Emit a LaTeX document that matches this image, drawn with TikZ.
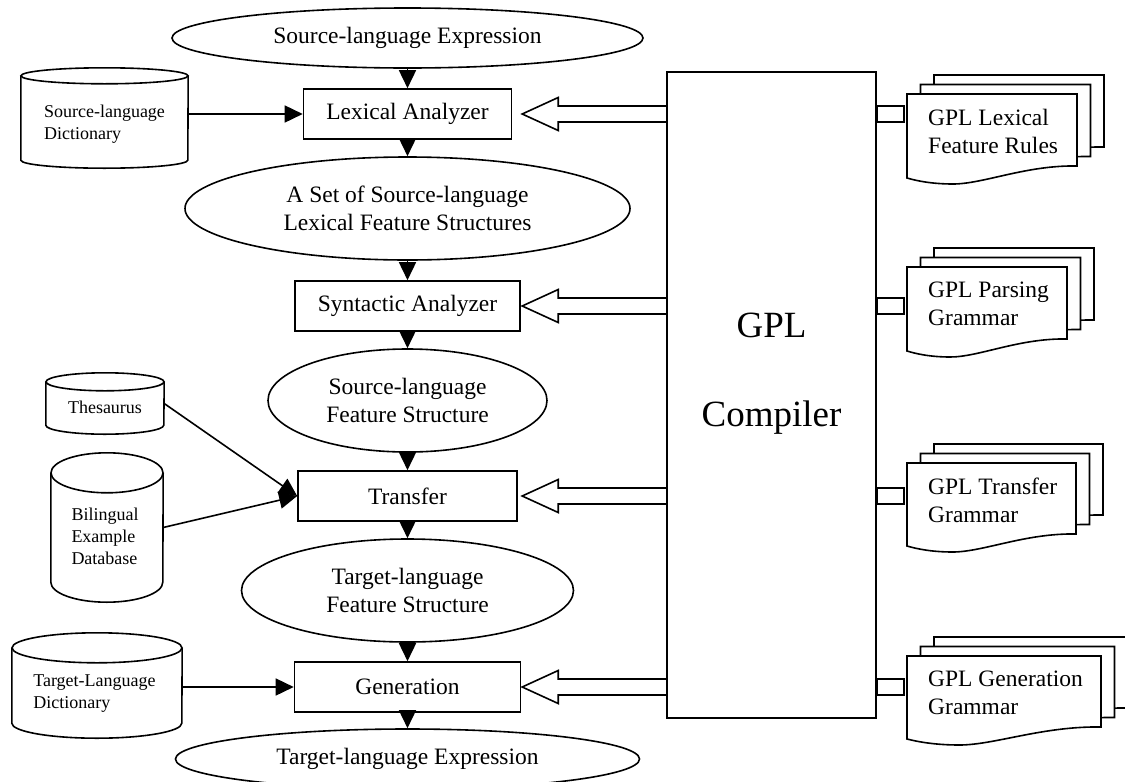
\documentclass[tikz,border=0pt]{standalone}
\usepackage{fontspec}
\setmainfont{Liberation Serif}
\usetikzlibrary{arrows.meta,shapes.geometric}

\newcommand{\fontmain}{\fontsize{23.5pt}{28pt}\selectfont}
\newcommand{\fontnote}{\fontsize{18pt}{22pt}\selectfont}
\newcommand{\fonttitle}{\fontsize{37pt}{44pt}\selectfont}

\tikzset{
  outline/.style={line width=1.6pt, line join=miter},
  stage/.style={draw, outline, rectangle, minimum height=50pt, inner sep=0pt, font=\fontmain},
  datum/.style={draw, outline, ellipse, inner sep=0pt, align=center, font=\fontmain},
  flow/.style={outline, -{Triangle[length=18pt,width=17pt]}},
  drumbody/.style={rectangle, inner sep=0pt},
  drumtext/.style={inner sep=0pt, align=left, font=\fontnote},
  sheet/.style={outline, fill=white},
  sheettext/.style={anchor=north west, inner sep=0pt, align=left, font=\fontmain},
}

% database drum: name, centre x, centre y, radius, half body height, end radius
\newcommand{\drumshape}[6]{%
  \node[drumbody, minimum width={2*#4pt}, minimum height={2*#5pt}] (#1) at (#2,#3) {};
  \draw[outline] (#1.north west) -- (#1.south west)
     arc[start angle=180, end angle=360, x radius=#4pt, y radius=#6pt] -- (#1.north east);
  \draw[outline] (#1.north) ellipse[x radius=#4pt, y radius=#6pt];
}

% one document sheet with a wavy lower edge: left, top, width, height
\newcommand{\docsheet}[4]{%
  \filldraw[sheet, shift={(#1,#2)}] (0,0) -- (#3,0) -- (#3,#4-12)
    .. controls ({0.7*#3},{#4-13}) and ({0.45*#3},{#4+6}) .. ({0.27*#3},{#4+6})
    .. controls ({0.15*#3},{#4+6}) and ({0.06*#3},{#4+3}) .. (0,#4) -- cycle;
}

% a stack of three sheets, front sheet at the given corner
\newcommand{\sheetstack}[4]{%
  \docsheet{#1+27}{#2-19}{#3}{#4}
  \docsheet{#1+13.5}{#2-9.5}{#3}{#4}
  \docsheet{#1}{#2}{#3}{#4}
}

\begin{document}
\begin{tikzpicture}[x=1pt, y=-1pt]
\useasboundingbox (0,0) rectangle (1125,782);
\fill[white] (0,0) rectangle (1125,782);

% translation pipeline
\node[datum, minimum width=471pt, minimum height=60pt] (srcexpr) at (407.5,38) {Source-language Expression};
\node[stage, minimum width=208pt] (lex) at (407.5,114) {Lexical Analyzer};
\node[datum, minimum width=445pt, minimum height=103pt] (lexfs) at (407.5,208.5) {A Set of Source-language\\Lexical Feature Structures};
\node[stage, minimum width=225pt] (syn) at (407.5,306) {Syntactic Analyzer};
\node[datum, minimum width=279pt, minimum height=103pt] (srcfs) at (407.5,400.5) {Source-language\\Feature Structure};
\node[stage, minimum width=219pt] (xfer) at (407.5,496) {Transfer};
\node[datum, minimum width=332pt, minimum height=103pt] (tgtfs) at (407.5,590.5) {Target-language\\Feature Structure};
\node[stage, minimum width=226pt] (gen) at (407.5,687) {Generation};
\node[datum, minimum width=464pt, minimum height=60pt] (tgtexpr) at (407.5,759) {Target-language Expression};

\draw[flow] (srcexpr) -- (lex);
\draw[flow] (lex) -- (lexfs);
\draw[flow] (lexfs) -- (syn);
\draw[flow] (syn) -- (srcfs);
\draw[flow] (srcfs) -- (xfer);
\draw[flow] (xfer) -- (tgtfs);
\draw[flow] (tgtfs) -- (gen);
\draw[flow] (gen) -- (tgtexpr);

% compiler
\node[draw, outline, minimum width=209pt, minimum height=646pt, inner sep=0pt] (compiler) at (771.5,395) {};
\node[font=\fonttitle, align=center, inner sep=0pt] (compilername) at (771.5,373.5) {GPL\\[45pt]Compiler};

% hollow arrows into each stage and stubs towards the grammar files
\foreach \s in {lex,syn,xfer,gen}{
  \draw[outline] (compiler.west |- \s.east) ++(0,-8) -- ++(-108,0) -- ++(0,-8.5)
     -- ++(-36,16.5) -- ++(36,16.5) -- ++(0,-8.5) -- ++(108,0);
  \draw[outline] (compiler.east |- \s.east) ++(0,-8) rectangle ++(27,16);
}

% grammar files
\sheetstack{907}{94}{170}{84}
\node[sheettext] (lexrules) at (928,109) {GPL Lexical\\Feature Rules};
\sheetstack{907}{267}{160}{84}
\node[sheettext] (parsegram) at (928,282) {GPL Parsing\\Grammar};
\sheetstack{907}{463}{169}{83}
\node[sheettext] (xfergram) at (928,478) {GPL Transfer\\Grammar};
\sheetstack{907}{656}{194}{83}
\node[sheettext] (gengram) at (928,671) {GPL Generation\\Grammar};

% dictionaries and databases
\drumshape{sdict}{104.5}{118}{83.5}{42}{8}
\node[drumtext] (sdictname) at (104.5,124) {Source-language\\Dictionary};
\drumshape{thes}{105}{403.5}{59}{21.5}{9}
\node[drumtext] (thesname) at (105,407) {Thesaurus};
\drumshape{bidb}{107}{527.5}{56}{54.5}{20}
\node[drumtext] (bidbname) at (105,536) {Bilingual\\Example\\Database};
\drumshape{tdict}{97}{685.5}{85}{37.5}{15}
\node[drumtext] (tdictname) at (94.5,694) {Target-Language\\Dictionary};

\draw[flow] (sdict.east |- lex.west) -- (lex.west);
\draw[flow] (thes.east) -- (xfer.west);
\draw[flow] (bidb.east) -- (xfer.west);
\draw[flow] (tdict.east |- gen.west) -- (gen.west);
\end{tikzpicture}
\end{document}
